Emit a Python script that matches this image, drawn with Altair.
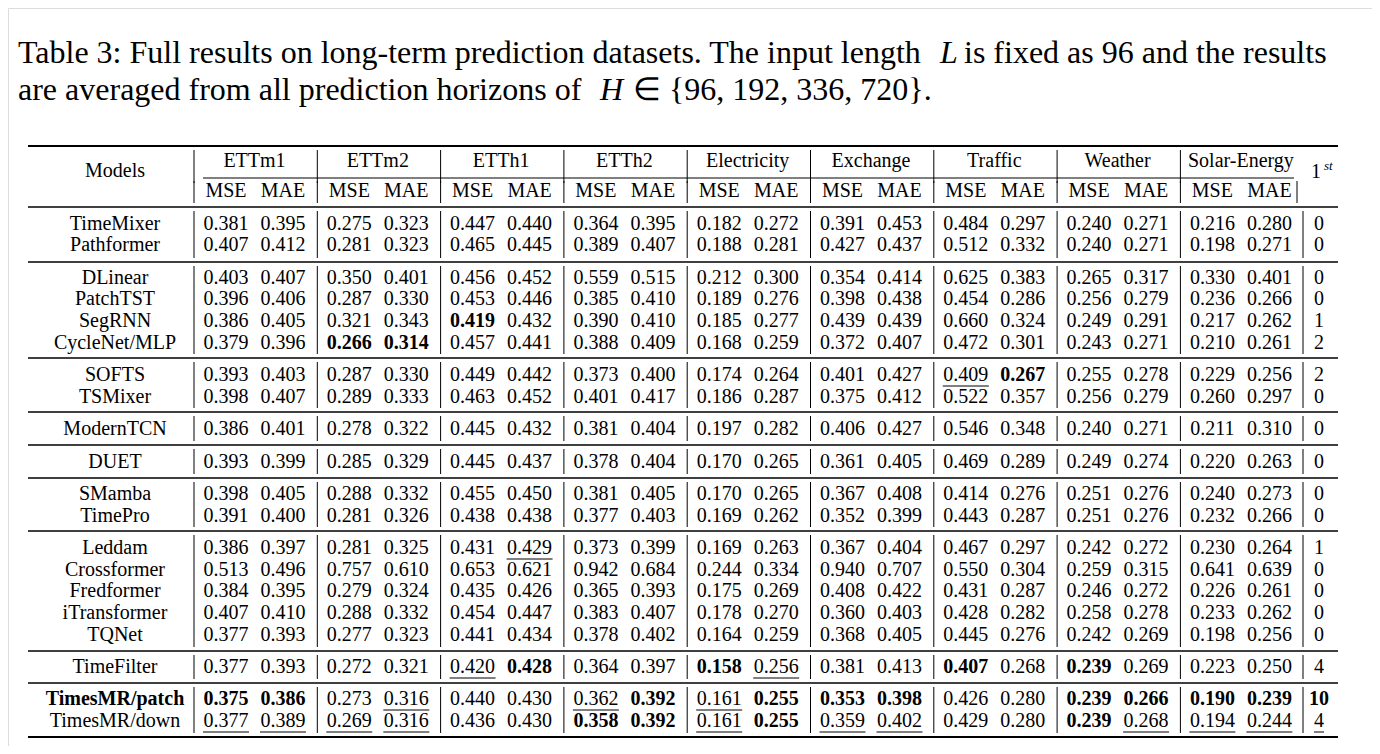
import altair as alt
import pandas as pd

datasets = ["ETTm1", "ETTm2", "ETTh1", "ETTh2", "Electricity", "Exchange", "Traffic", "Weather", "Solar-Energy"]
models = ["TimeMixer", "Pathformer", "DLinear", "PatchTST", "SegRNN", "CycleNet/MLP", "SOFTS", "TSMixer",
          "ModernTCN", "DUET", "SMamba", "TimePro", "Leddam", "Crossformer", "Fredformer", "iTransformer",
          "TQNet", "TimeFilter", "TimesMR/patch", "TimesMR/down"]
values = [
    "0.381 0.395 0.275 0.323 0.447 0.440 0.364 0.395 0.182 0.272 0.391 0.453 0.484 0.297 0.240 0.271 0.216 0.280",
    "0.407 0.412 0.281 0.323 0.465 0.445 0.389 0.407 0.188 0.281 0.427 0.437 0.512 0.332 0.240 0.271 0.198 0.271",
    "0.403 0.407 0.350 0.401 0.456 0.452 0.559 0.515 0.212 0.300 0.354 0.414 0.625 0.383 0.265 0.317 0.330 0.401",
    "0.396 0.406 0.287 0.330 0.453 0.446 0.385 0.410 0.189 0.276 0.398 0.438 0.454 0.286 0.256 0.279 0.236 0.266",
    "0.386 0.405 0.321 0.343 0.419 0.432 0.390 0.410 0.185 0.277 0.439 0.439 0.660 0.324 0.249 0.291 0.217 0.262",
    "0.379 0.396 0.266 0.314 0.457 0.441 0.388 0.409 0.168 0.259 0.372 0.407 0.472 0.301 0.243 0.271 0.210 0.261",
    "0.393 0.403 0.287 0.330 0.449 0.442 0.373 0.400 0.174 0.264 0.401 0.427 0.409 0.267 0.255 0.278 0.229 0.256",
    "0.398 0.407 0.289 0.333 0.463 0.452 0.401 0.417 0.186 0.287 0.375 0.412 0.522 0.357 0.256 0.279 0.260 0.297",
    "0.386 0.401 0.278 0.322 0.445 0.432 0.381 0.404 0.197 0.282 0.406 0.427 0.546 0.348 0.240 0.271 0.211 0.310",
    "0.393 0.399 0.285 0.329 0.445 0.437 0.378 0.404 0.170 0.265 0.361 0.405 0.469 0.289 0.249 0.274 0.220 0.263",
    "0.398 0.405 0.288 0.332 0.455 0.450 0.381 0.405 0.170 0.265 0.367 0.408 0.414 0.276 0.251 0.276 0.240 0.273",
    "0.391 0.400 0.281 0.326 0.438 0.438 0.377 0.403 0.169 0.262 0.352 0.399 0.443 0.287 0.251 0.276 0.232 0.266",
    "0.386 0.397 0.281 0.325 0.431 0.429 0.373 0.399 0.169 0.263 0.367 0.404 0.467 0.297 0.242 0.272 0.230 0.264",
    "0.513 0.496 0.757 0.610 0.653 0.621 0.942 0.684 0.244 0.334 0.940 0.707 0.550 0.304 0.259 0.315 0.641 0.639",
    "0.384 0.395 0.279 0.324 0.435 0.426 0.365 0.393 0.175 0.269 0.408 0.422 0.431 0.287 0.246 0.272 0.226 0.261",
    "0.407 0.410 0.288 0.332 0.454 0.447 0.383 0.407 0.178 0.270 0.360 0.403 0.428 0.282 0.258 0.278 0.233 0.262",
    "0.377 0.393 0.277 0.323 0.441 0.434 0.378 0.402 0.164 0.259 0.368 0.405 0.445 0.276 0.242 0.269 0.198 0.256",
    "0.377 0.393 0.272 0.321 0.420 0.428 0.364 0.397 0.158 0.256 0.381 0.413 0.407 0.268 0.239 0.269 0.223 0.250",
    "0.375 0.386 0.273 0.316 0.440 0.430 0.362 0.392 0.161 0.255 0.353 0.398 0.426 0.280 0.239 0.266 0.190 0.239",
    "0.377 0.389 0.269 0.316 0.436 0.430 0.358 0.392 0.161 0.255 0.359 0.402 0.429 0.280 0.239 0.268 0.194 0.244",
]
firsts = ["0", "0", "0", "0", "1", "2", "2", "0", "0", "0", "0", "0", "1", "0", "0", "0", "0", "4", "10", "4"]
bold_cells = [(4, 4), (5, 2), (5, 3), (6, 13), (17, 5), (17, 8), (17, 12), (17, 14),
              (18, 0), (18, 1), (18, 7), (18, 9), (18, 10), (18, 11), (18, 14), (18, 15), (18, 16), (18, 17),
              (19, 6), (19, 7), (19, 9), (19, 14)]
under_cells = [(6, 12), (12, 5), (17, 4), (17, 9),
               (18, 3), (18, 6), (18, 8),
               (19, 0), (19, 1), (19, 2), (19, 3), (19, 8), (19, 10), (19, 11), (19, 15), (19, 16), (19, 17)]

FONT = "Liberation Serif"
FS = 20

row_y = [224, 245, 278, 299, 321, 343, 375, 397, 429, 462, 494, 516, 548, 570, 591, 613, 635, 667, 699, 721]
def col_x(c):
    return 226 + 123.3 * (c // 2) + 57 * (c % 2)
x_first = 1319
x_model = 115

texts_n, texts_b, unders = [], [], []
for r, m in enumerate(models):
    (texts_b if r == 18 else texts_n).append({"x": x_model, "y": row_y[r], "t": m})
    vals = values[r].split()
    for c, v in enumerate(vals):
        d = {"x": col_x(c), "y": row_y[r], "t": v}
        (texts_b if (r, c) in bold_cells else texts_n).append(d)
        if (r, c) in under_cells:
            unders.append({"x": col_x(c) - 23, "x2": col_x(c) + 23, "y": row_y[r] + 11, "y2": row_y[r] + 11})
    (texts_b if r == 18 else texts_n).append({"x": x_first, "y": row_y[r], "t": firsts[r]})
unders.append({"x": x_first - 5, "x2": x_first + 5, "y": row_y[19] + 11, "y2": row_y[19] + 11})

texts_n.append({"x": x_model, "y": 171, "t": "Models"})
for i, ds in enumerate(datasets):
    texts_n.append({"x": (col_x(2 * i) + col_x(2 * i + 1)) / 2, "y": 161, "t": ds})
    texts_n.append({"x": col_x(2 * i), "y": 191, "t": "MSE"})
    texts_n.append({"x": col_x(2 * i + 1), "y": 191, "t": "MAE"})
texts_n.append({"x": 1316, "y": 172, "t": "1"})

sep_y = [262, 358, 412, 445, 478, 531, 651, 683]
rules = []
for y, w in [(146, 2.2), (207, 1.4), (737, 2.2)]:
    rules.append({"x": 28, "x2": 1338, "y": y, "y2": y, "w": w})
for y in sep_y:
    rules.append({"x": 28, "x2": 1338, "y": y, "y2": y, "w": 1.4})
rules.append({"x": 203, "x2": 1294, "y": 178, "y2": 178, "w": 1.0})
vrules = []
bar_x = [194 + 123.3 * k for k in range(9)]
for bx in bar_x:
    vrules.append({"x": bx, "x2": bx, "y": 150, "y2": 183, "w": 1})
for bx in bar_x + [1297]:
    vrules.append({"x": bx, "x2": bx, "y": 181, "y2": 203, "w": 1})
bounds = [211] + [s + 4 for s in sep_y]
ends = [s - 4 for s in sep_y] + [733]
for a, b in zip(bounds, ends):
    for bx in bar_x + [1303]:
        vrules.append({"x": bx, "x2": bx, "y": a, "y2": b, "w": 1})
rules_all = rules + vrules + [dict(u, w=1) for u in unders]

W, H = 1364, 738
xs = alt.Scale(domain=[8, W + 8], range=[0, W], nice=False, zero=False)
ys = alt.Scale(domain=[8, H + 8], nice=False, zero=False, reverse=True)

def enc(**k):
    return dict(x=alt.X("x:Q", scale=xs, axis=None), y=alt.Y("y:Q", scale=ys, axis=None), **k)

rule_layer = alt.Chart(pd.DataFrame(rules_all)).mark_rule(color="black").encode(
    x=alt.X("x:Q", scale=xs, axis=None), x2="x2:Q",
    y=alt.Y("y:Q", scale=ys, axis=None), y2="y2:Q",
    strokeWidth=alt.StrokeWidth("w:Q", scale=None))

tn = alt.Chart(pd.DataFrame(texts_n)).mark_text(font=FONT, fontSize=FS, color="black", align="center",
                                                baseline="middle").encode(**enc(text="t:N"))
tb = alt.Chart(pd.DataFrame(texts_b)).mark_text(font=FONT, fontSize=FS, color="black", align="center",
                                                baseline="middle", fontWeight="bold").encode(**enc(text="t:N"))
sup = alt.Chart(pd.DataFrame([{"x": 1324, "y": 166, "t": "st"}])).mark_text(
    font=FONT, fontSize=13, fontStyle="italic", align="left", baseline="middle").encode(**enc(text="t:N"))

title_n = pd.DataFrame([
    {"x": 18, "y": 53, "t": "Table 3: Full results on long-term prediction datasets. The input length"},
    {"x": 964, "y": 53, "t": "is fixed as 96 and the results"},
    {"x": 18, "y": 90, "t": "are averaged from all prediction horizons of"},
    {"x": 633, "y": 90, "t": "∈ {96, 192, 336, 720}."},
])
title_i = pd.DataFrame([{"x": 940, "y": 53, "t": "L"}, {"x": 600, "y": 90, "t": "H"}])
tt = alt.Chart(title_n).mark_text(font=FONT, fontSize=32, align="left", baseline="middle").encode(**enc(text="t:N"))
ti = alt.Chart(title_i).mark_text(font=FONT, fontSize=32, fontStyle="italic", align="left",
                                  baseline="middle").encode(**enc(text="t:N"))

chart = alt.layer(rule_layer, tn, tb, sup, tt, ti).properties(
    width=W, height=H, padding=0, autosize=alt.AutoSizeParams(type="none")
).configure_view(stroke=None).configure(background="white")

chart.save("out.html", embed_options={"renderer": "svg", "actions": False})
